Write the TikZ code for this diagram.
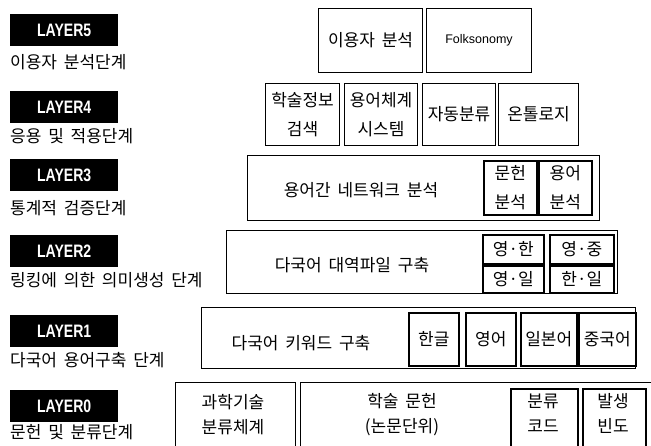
\documentclass[tikz,border=0pt]{standalone}
\usepackage{fontspec}
\setmainfont{Noto Sans CJK KR}
\newfontfamily\latinsf{Liberation Sans}
\newcommand{\ws}{\hspace{0.4em}}
\tikzset{
  x=1pt, y=-1pt,
  every node/.style={font=\fontsize{17}{29}\selectfont, inner sep=0pt},
  outerbox/.style={draw, line width=1.1pt},
  innerbox/.style={draw, line width=1.6pt},
  layerbox/.style={fill=black, text=white, minimum width=108pt, minimum height=32pt, font=\latinsf\bfseries\fontsize{18}{18}\selectfont},
  caption/.style={anchor=west},
  lbl/.style={align=center},
  tight/.style={font=\fontsize{17}{25}\selectfont},
}
\newcommand{\bx}[6]{% style, name, x1,y1,x2,y2
  \node[#1, anchor=north west, minimum width={#5-#3}, minimum height={#6-#4}] (#2) at (#3,#4) {};}
\begin{document}
\begin{tikzpicture}
\useasboundingbox (0,0) rectangle (651,445);
\begin{scope}
\clip (0,0) rectangle (651,445);
% LAYER labels
\node[layerbox, anchor=north west] (L5) at (10,14) {\scalebox{0.78}[1]{LAYER5}};
\node[layerbox, anchor=north west] (L4) at (10,91) {\scalebox{0.78}[1]{LAYER4}};
\node[layerbox, anchor=north west] (L3) at (10,159) {\scalebox{0.78}[1]{LAYER3}};
\node[layerbox, anchor=north west] (L2) at (10,235) {\scalebox{0.78}[1]{LAYER2}};
\node[layerbox, anchor=north west] (L1) at (10,315) {\scalebox{0.78}[1]{LAYER1}};
\node[layerbox, anchor=north west] (L0) at (10,390) {\scalebox{0.78}[1]{LAYER0}};
% captions
\node[caption] (c5) at (10,62) {이용자\ws 분석단계};
\node[caption] (c4) at (10,136) {응용\ws 및\ws 적용단계};
\node[caption] (c3) at (10,208) {통계적\ws 검증단계};
\node[caption] (c2) at (10,280) {링킹에\ws 의한\ws 의미생성\ws 단계};
\node[caption] (c1) at (10,360) {다국어\ws 용어구축\ws 단계};
\node[caption] (c0) at (10,432) {문헌\ws 및\ws 분류단계};
% layer 5
\bx{outerbox}{b51}{318}{8}{422}{72}
\bx{outerbox}{b52}{426}{8}{531}{72}
\node (t51) at (b51) {이용자\ws 분석};
\node (t52) at (b52) {\latinsf\fontsize{12.5}{14}\selectfont Folksonomy};
% layer 4
\bx{outerbox}{b41}{265}{83}{339}{145}
\bx{outerbox}{b42}{344}{83}{417}{145}
\bx{outerbox}{b43}{422}{83}{495}{145}
\bx{outerbox}{b44}{498}{83}{578}{145}
\node[lbl] (t41) at (b41) {학술정보\\검색};
\node[lbl] (t42) at (b42) {용어체계\\시스템};
\node[lbl] (t43) at (b43) {자동분류};
\node[lbl] (t44) at (b44) {온톨로지};
% layer 3
\bx{outerbox}{b30}{247}{155}{599}{220}
\bx{innerbox}{b31}{483}{160}{536}{214}
\bx{innerbox}{b32}{538}{160}{591}{214}
\node (t30) at (361,190) {용어간\ws 네트워크\ws 분석};
\node[lbl] (t31) at (b31) {문헌\\분석};
\node[lbl] (t32) at (b32) {용어\\분석};
% layer 2
\bx{outerbox}{b20}{226}{230}{617}{293}
\bx{innerbox}{b21}{482}{234}{543}{263}
\bx{innerbox}{b22}{549}{234}{613}{263}
\bx{innerbox}{b23}{482}{265}{543}{292}
\bx{innerbox}{b24}{549}{265}{613}{292}
\node (t20) at (352,265) {다국어\ws 대역파일\ws 구축};
\node (t21) at (b21) {영·한};
\node (t22) at (b22) {영·중};
\node (t23) at (b23) {영·일};
\node (t24) at (b24) {한·일};
% layer 1
\bx{outerbox}{b10}{201}{307}{635}{368}
\bx{innerbox}{b11}{408}{312}{458}{365}
\bx{innerbox}{b12}{465}{312}{515}{365}
\bx{innerbox}{b13}{520}{312}{576}{365}
\bx{innerbox}{b14}{578}{312}{635}{365}
\node (t10) at (301,343) {다국어\ws 키워드\ws 구축};
\node (t11) at (b11) {한글};
\node (t12) at (b12) {영어};
\node (t13) at (b13) {일본어};
\node (t14) at (b14) {중국어};
% layer 0
\bx{outerbox}{b01}{175}{382}{295}{460}
\bx{outerbox}{b02}{300}{382}{660}{460}
\bx{innerbox}{b03}{510}{388}{577}{460}
\bx{innerbox}{b04}{582}{388}{645}{460}
\node[lbl, tight] (t01) at (233,415) {과학기술\\분류체계};
\node[lbl, tight] (t02) at (402,415) {학술\ws 문헌\\(논문단위)};
\node[lbl, tight] (t03) at (543,413) {분류\\코드};
\node[lbl, tight] (t04) at (613,413) {발생\\빈도};
\end{scope}
\end{tikzpicture}
\end{document}
